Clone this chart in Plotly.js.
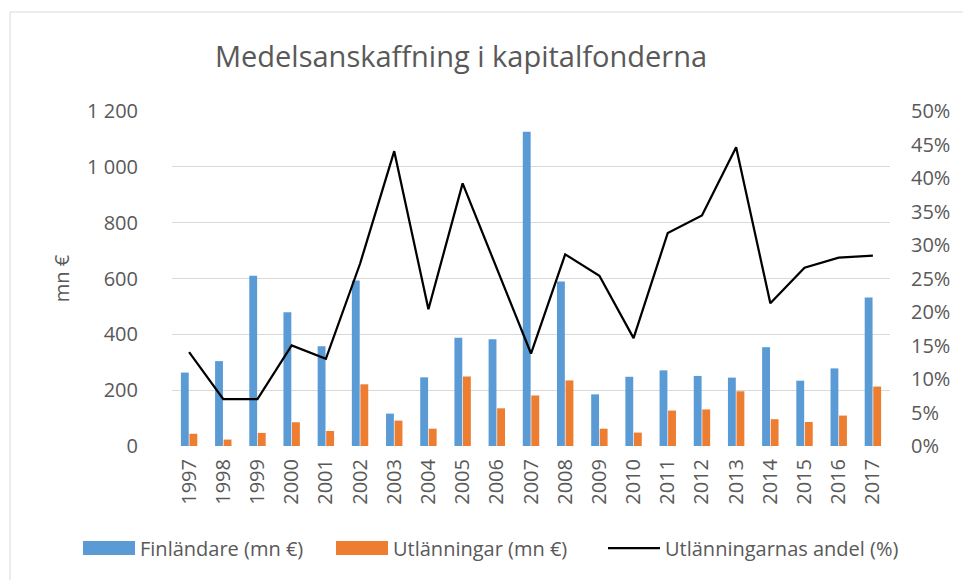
<!DOCTYPE html>
<html>
<head>
<meta charset="utf-8">
<script src="https://cdn.plot.ly/plotly-3.0.1.min.js"></script>
<style>html,body{margin:0;padding:0;background:#fff;}#chart{width:963px;height:580px;}</style>
</head>
<body>
<div id="chart"></div>
<script>
const years = ['1997','1998','1999','2000','2001','2002','2003','2004','2005','2006','2007','2008','2009','2010','2011','2012','2013','2014','2015','2016','2017'];
const finlandare = [263, 304, 610, 479, 357, 593, 116, 246, 388, 382, 1126, 589, 185, 248, 271, 251, 245, 354, 234, 278, 532];
const utlanningar = [44, 23, 47, 85, 54, 221, 91, 62, 249, 135, 181, 235, 62, 48, 127, 131, 196, 96, 86, 109, 213];
const andel = [0.140, 0.070, 0.070, 0.150, 0.130, 0.272, 0.440, 0.204, 0.392, 0.265, 0.138, 0.286, 0.254, 0.161, 0.318, 0.344, 0.446, 0.213, 0.266, 0.281, 0.284];
const seriesNames = ['Finländare (mn €)', 'Utlänningar (mn €)', 'Utlänningarnas andel (%)'];
const colors = ['#5b9bd5', '#ed7d31', '#000000'];

const txt = '#595959';
const font = 'Open Sans, sans-serif';

const traces = [
  {type:'bar', x: years, y: finlandare, name: seriesNames[0], marker:{color: colors[0]}, yaxis:'y', showlegend:false},
  {type:'bar', x: years, y: utlanningar, name: seriesNames[1], marker:{color: colors[1]}, yaxis:'y', showlegend:false},
  {type:'scatter', mode:'lines', x: years, y: andel, name: seriesNames[2], line:{color: colors[2], width:2.25}, yaxis:'y2', showlegend:false}
];

// pixel -> paper helpers (plot area 172..890 x, 111..446 y)
const px = v => (v - 172) / 718;
const py = v => (446 - v) / 335;

const shapes = [
  {type:'rect', xref:'paper', yref:'paper', x0: px(10), x1: px(990), y0: py(12), y1: py(700), line:{color:'#d9d9d9', width:1}, fillcolor:'rgba(0,0,0,0)', layer:'below'},
  {type:'rect', xref:'paper', yref:'paper', x0: px(83), x1: px(135), y0: py(541), y1: py(555), line:{width:0}, fillcolor: colors[0]},
  {type:'rect', xref:'paper', yref:'paper', x0: px(336), x1: px(388), y0: py(541), y1: py(555), line:{width:0}, fillcolor: colors[1]},
  {type:'line', xref:'paper', yref:'paper', x0: px(608), x1: px(660), y0: py(548), y1: py(548), line:{color: colors[2], width:2.25}}
];

const annotations = [
  {xref:'paper', yref:'paper', x: px(138), y: py(548), xanchor:'left', yanchor:'middle', text: seriesNames[0], showarrow:false, font:{family:font, size:20, color:txt}},
  {xref:'paper', yref:'paper', x: px(391), y: py(548), xanchor:'left', yanchor:'middle', text: seriesNames[1], showarrow:false, font:{family:font, size:20, color:txt}},
  {xref:'paper', yref:'paper', x: px(663), y: py(548), xanchor:'left', yanchor:'middle', text: seriesNames[2], showarrow:false, font:{family:font, size:20, color:txt}}
];

const layout = {
  width: 963, height: 580,
  margin: {l:172, r:73, t:111, b:134, pad:0},
  paper_bgcolor:'#ffffff', plot_bgcolor:'#ffffff',
  separators: ', ',
  font: {family: font, color: txt, size: 20},
  title: {text:'Medelsanskaffning i kapitalfonderna', x: 461/963, xanchor:'center', xref:'container', y: 1 - 57/580, yanchor:'middle', yref:'container', font:{family:font, size:29, color:txt}},
  barmode:'group', bargap:0.5, bargroupgap:0.08,
  showlegend:false,
  xaxis: {type:'category', tickangle:-90, showgrid:false, zeroline:false, showline:false, ticks:'', tickfont:{size:20, color:txt}, ticklabelstandoff: 8},
  yaxis: {range:[0,1200], dtick:200, tickformat:',d', showgrid:true, gridcolor:'#d9d9d9', gridwidth:1, zeroline:false, showline:false, ticks:'', tickfont:{size:20, color:txt}, ticklabelstandoff: 33,
          title:{text:'mn €', font:{size:20, color:txt}, standoff: 12}},
  yaxis2: {range:[0,0.5], dtick:0.05, tickformat:'.0%', overlaying:'y', side:'right', showgrid:false, zeroline:false, showline:false, ticks:'', tickfont:{size:20, color:txt}, ticklabelstandoff: 20},
  shapes: shapes,
  annotations: annotations
};

Plotly.newPlot('chart', traces, layout, {displayModeBar:false, staticPlot:true});
</script>
</body>
</html>
